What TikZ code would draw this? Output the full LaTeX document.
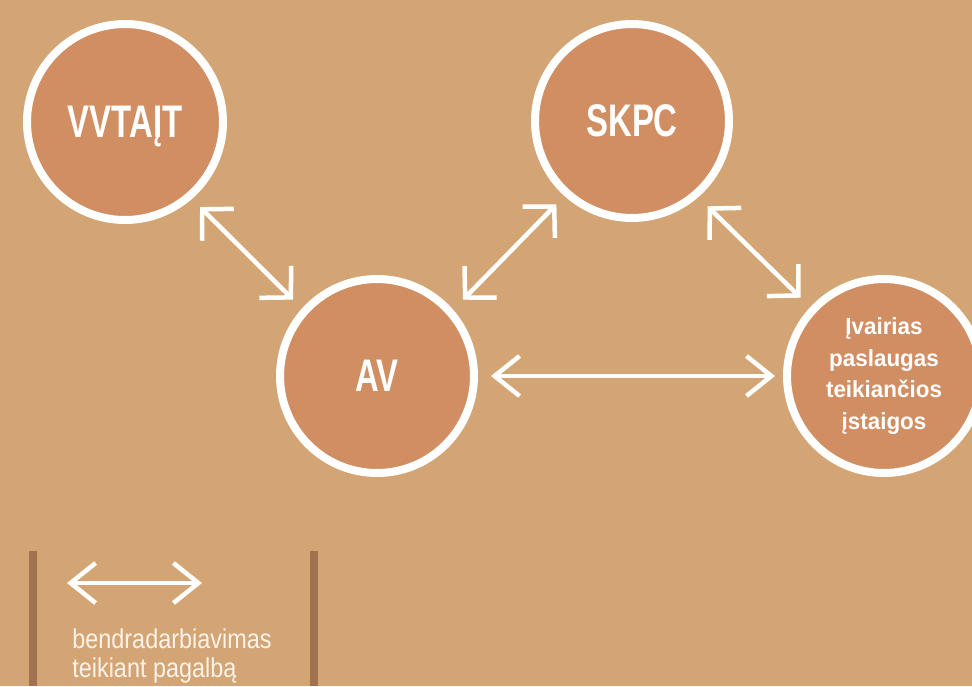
\documentclass[tikz,border=0pt]{standalone}
\usepackage{fontspec}
\setmainfont{Liberation Sans}
\newfontfamily\tagfont[FakeStretch=0.72]{Liberation Sans}
\newfontfamily\orgfont[FakeStretch=0.96]{Liberation Sans}
\newfontfamily\keyfont[FakeStretch=0.86]{Liberation Sans}
\usetikzlibrary{arrows.meta}
\definecolor{bgtan}{HTML}{D4A574}
\definecolor{discfill}{HTML}{D18E62}
\definecolor{barbrown}{HTML}{A07250}
\definecolor{keycream}{HTML}{FBF3EA}

\begin{document}
\begin{tikzpicture}[x=0.02cm, y=-0.02cm,
  disc/.style={circle, draw=white, line width=0.16cm, fill=discfill, text=white, inner sep=0pt},
  bigtag/.style={font=\fontsize{26}{28}\selectfont\tagfont\bfseries, text depth=0pt},
  link/.style={white, line width=0.09cm,
    {Straight Barb[length=0.5cm,width=0.8cm]}-{Straight Barb[length=0.5cm,width=0.8cm]}},
  slant/.style={link,
    {Straight Barb[length=0.44cm,width=0.9cm]}-{Straight Barb[length=0.44cm,width=0.9cm]}}]

% Page and background
\useasboundingbox (0,0) rectangle (972,686);
\fill[bgtan] (0,0) rectangle (972,686);

% Circles
\node[disc, bigtag, minimum size=3.92cm] (vvt) at (125,122) {VVTAĮT};
\node[disc, bigtag, minimum size=3.88cm] (skpc) at (632,121) {SKPC};
\node[disc, bigtag, minimum size=3.88cm] (av) at (377,376) {AV};
\node[disc, minimum size=3.88cm, align=center,
  font=\fontsize{13.3}{17.9}\selectfont\orgfont\bfseries] (org) at (884,376)
  {Įvairias\\paslaugas\\teikiančios\\įstaigos};

% Two-way arrows between circles
\draw[slant, shorten <=0.23cm, shorten >=0.25cm] (vvt.-49) -- (av.138.2);
\draw[slant, shorten <=0.28cm, shorten >=0.23cm] (av.41) -- (skpc.228.6);
\draw[slant, shorten <=0.26cm, shorten >=0.27cm] (skpc.-49.4) -- (org.137.4);
\draw[link, shorten <=0.26cm, shorten >=0.16cm] (av) -- (org);

% Legend
\fill[barbrown] (29,551) rectangle (37,686);
\fill[barbrown] (310,551) rectangle (318,686);
\coordinate (keyL) at (67,583);
\coordinate (keyR) at (202,583);
\draw[link] (keyL) -- (keyR);
\node[anchor=north west, inner sep=0pt, align=left, text=keycream,
  font=\fontsize{15.5}{17}\selectfont\keyfont] (keytext) at (72,628)
  {bendradarbiavimas\\teikiant pagalbą};
\end{tikzpicture}
\end{document}
